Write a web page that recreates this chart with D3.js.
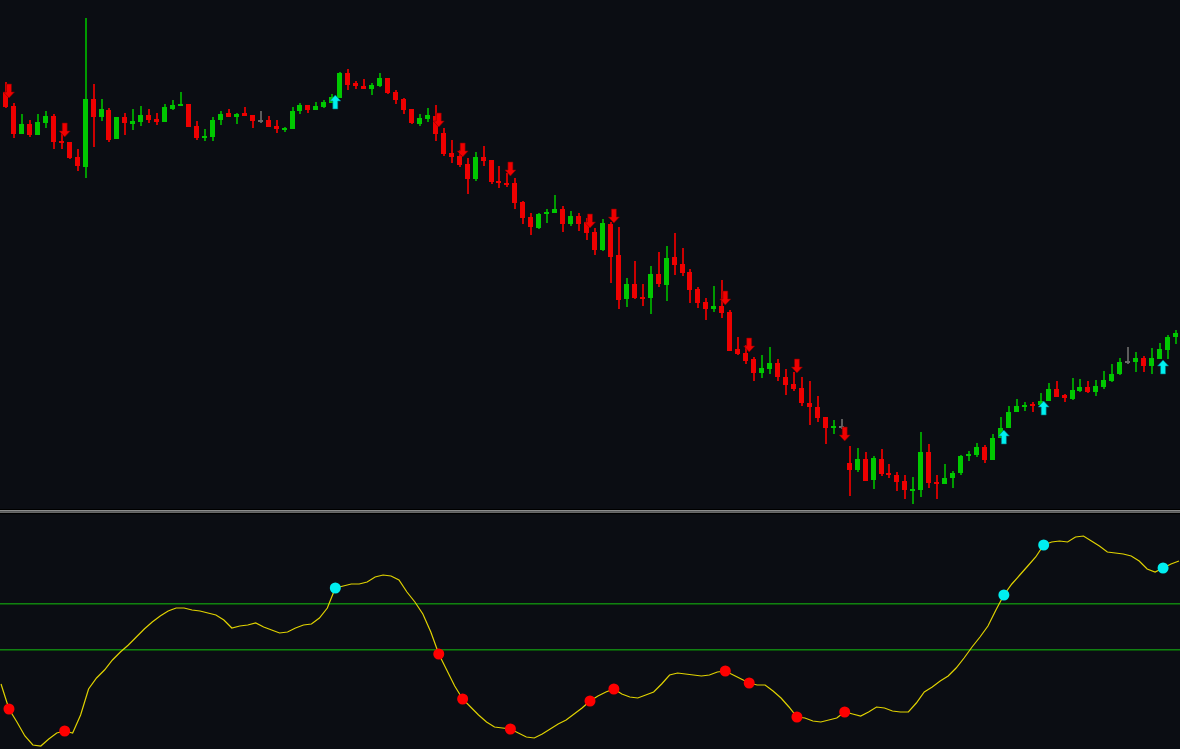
<!DOCTYPE html>
<html><head><meta charset="utf-8">
<script src="https://cdn.jsdelivr.net/npm/d3@7/dist/d3.min.js"></script>
<style>html,body{margin:0;padding:0;background:#0b0d13;overflow:hidden}</style>
</head><body>
<svg id="c" width="1180" height="749"></svg>
<script>
// ---- price data (one candle per bar) ----
const openP  = [508,494,466,476,465,477,484,459,458,443,433,501,483,490,461,483,476,478,485,481,478,491,494,496,474,463,463,480,487,483,487,485,480,480,474,470,471,489,495,490,493,497,502,527,517,514,511,514,522,508,501,491,476,481,484,467,447,444,436,421,443,440,419,417,417,398,383,372,386,387,391,376,384,378,368,350,376,345,301,316,303,302,326,315,343,336,328,311,298,291,294,288,251,247,241,227,231,237,223,216,212,197,193,183,173,174,137,130,141,120,141,127,125,119,110,110,148,118,116,122,127,144,145,153,140,162,172,188,193,196,195,199,211,205,201,209,213,208,213,219,226,239,238,242,234,241,250,263];
const highP  = [518,497,486,480,486,489,486,469,458,451,582,516,501,492,483,487,491,494,491,487,496,500,508,496,479,471,483,489,491,487,493,485,489,484,480,473,493,497,495,498,500,506,528,531,519,521,517,527,522,510,502,491,486,492,495,472,460,450,442,448,454,440,434,427,422,399,387,387,391,405,394,389,387,382,372,381,378,373,322,339,316,334,348,354,367,352,331,313,302,314,320,290,263,255,243,245,253,241,231,228,223,219,204,183,180,181,154,152,148,144,151,136,128,125,123,168,156,125,136,129,145,149,157,155,166,183,194,201,198,198,207,217,219,206,222,221,219,220,229,236,242,253,248,244,252,257,265,270];
const lowP   = [492,462,466,463,465,472,451,451,441,429,422,453,479,458,461,465,470,474,477,475,478,490,494,473,460,459,459,475,483,476,484,472,477,473,467,468,471,486,487,490,492,497,502,510,511,511,505,513,506,496,486,476,474,478,459,444,437,433,406,419,434,416,412,413,391,376,365,371,377,387,368,374,369,360,345,349,317,291,293,301,294,286,313,299,325,324,297,292,280,288,282,249,245,236,219,222,226,219,205,209,194,175,178,156,166,171,104,128,119,111,124,122,109,101,96,103,112,101,116,112,125,139,143,137,140,162,172,188,189,188,195,199,203,198,200,208,207,204,211,218,225,236,228,228,226,241,241,256];
const closeP = [493,466,476,465,478,484,458,457,442,434,501,483,491,460,483,477,479,485,480,478,493,495,496,473,462,464,480,486,483,486,484,479,480,473,471,472,489,495,490,494,498,503,527,515,514,511,515,522,507,500,490,477,482,485,466,446,443,435,421,443,439,418,417,416,397,382,373,386,388,391,376,384,376,367,350,377,343,300,316,302,301,326,316,342,335,327,310,297,291,294,287,249,246,239,227,232,237,223,215,211,197,193,182,172,174,174,130,141,119,142,126,126,118,110,111,148,117,116,122,127,144,146,153,140,162,172,188,194,195,194,199,211,203,202,210,213,208,214,220,226,238,239,242,234,242,251,263,267];

// ---- signal arrows (bar index, price of arrow tip) ----
const sellIdx   = [0,7,54,57,63,73,76,90,93,99,105];
const sellPrice = [502,463,473,443,424,372,377,295,248,227,159];
const buyIdx    = [41,125,130,145];
const buyPrice  = [505,170,199,240];

// ---- oscillator (bars -1 .. 147) ----
const oscStart = -1;
const oscVals = [66,41,28,14,5,4,11,17,19,17,35,61,72,80,90,98,105,113,121,128,134,139,142,142,140,139,137,135,130,122,124,125,127,123,120,117,118,122,125,126,132,142,162,164,166,166,168,173,175,174,170,158,148,136,118,96,80,64,51,43,35,28,23,22,21,17,13,12,16,21,26,30,36,42,49,54,58,61,56,53,52,55,58,66,75,77,76,75,74,75,78,79,75,71,67,65,65,59,52,43,33,32,29,28,30,32,38,36,34,38,43,42,39,38,38,47,58,63,69,74,82,92,103,113,124,140,155,166,175,184,193,205,208,209,208,213,214,209,204,198,197,196,194,189,181,178,182,186,189];
const oscLevels = [147,101];

const svg = d3.select('#c');
const W = 1180, H = 749;
svg.append('rect').attr('width',W).attr('height',H).attr('fill','#0b0d13');

const x = d3.scaleLinear().domain([0,147]).range([5,1175]);
const yP = d3.scaleLinear().domain([90,600]).range([510,0]);
const yO = d3.scaleLinear().domain([0,240]).range([750,510]);

const candles = d3.range(openP.length).map(i=>({i,o:openP[i],h:highP[i],l:lowP[i],c:closeP[i]}));
const col = d=> d.c>d.o ? 'up' : (d.c<d.o ? 'dn' : 'dj');
const bodyCol = {up:'#00c800', dn:'#ee0000', dj:'#6a6a6a'};
const wickCol = {up:'#009a00', dn:'#cc0000', dj:'#5c5c5c'};

const gTop = svg.append('g').attr('shape-rendering','crispEdges');
gTop.selectAll('rect.w').data(candles).join('rect')
  .attr('x',d=>Math.round(x(d.i))-0.5).attr('width',2)
  .attr('y',d=>yP(d.h)).attr('height',d=>yP(d.l)-yP(d.h))
  .attr('fill',d=>wickCol[col(d)]);
gTop.selectAll('rect.b').data(candles).join('rect')
  .attr('x',d=>Math.round(x(d.i))-2)
  .attr('width',5)
  .attr('y',d=>yP(Math.max(d.o,d.c)))
  .attr('height',d=>Math.max(2,Math.abs(yP(d.o)-yP(d.c))))
  .attr('fill',d=>bodyCol[col(d)]);

// arrows
function downArrow(cx,ty){ // tip at (cx,ty)
  return `M${cx},${ty} L${cx-5.5},${ty-6} L${cx-2.5},${ty-6} L${cx-2.5},${ty-14} L${cx+2.5},${ty-14} L${cx+2.5},${ty-6} L${cx+5.5},${ty-6} Z`;
}
function upArrow(cx,ty){
  return `M${cx},${ty} L${cx-5.5},${ty+6} L${cx-2.5},${ty+6} L${cx-2.5},${ty+14} L${cx+2.5},${ty+14} L${cx+2.5},${ty+6} L${cx+5.5},${ty+6} Z`;
}
const sells = sellIdx.map((b,k)=>({b,p:sellPrice[k]}));
const buys = buyIdx.map((b,k)=>({b,p:buyPrice[k]}));
svg.append('g').selectAll('path').data(sells).join('path')
  .attr('d',d=>downArrow(x(d.b+0.5),yP(d.p)))
  .attr('fill','#f00000').attr('stroke','#7a0000').attr('stroke-width',0.6);
svg.append('g').selectAll('path').data(buys).join('path')
  .attr('d',d=>upArrow(x(d.b+0.5),yP(d.p)))
  .attr('fill','#00f0f0').attr('stroke','#006e78').attr('stroke-width',0.6);

// separator
svg.append('rect').attr('x',0).attr('y',509).attr('width',W).attr('height',1).attr('fill','#000');
svg.append('rect').attr('x',0).attr('y',510).attr('width',W).attr('height',1.5).attr('fill','#8c8c8c');
svg.append('rect').attr('x',0).attr('y',511.5).attr('width',W).attr('height',1.5).attr('fill','#6a6a6a');
svg.append('rect').attr('x',0).attr('y',513).attr('width',W).attr('height',1.2).attr('fill','#000');

// oscillator levels
const gLev = svg.append('g').attr('shape-rendering','crispEdges');
gLev.selectAll('rect.a').data(oscLevels).join('rect')
  .attr('x',0).attr('width',W)
  .attr('y',d=>Math.round(yO(d))).attr('height',1)
  .attr('fill','#128012');
gLev.selectAll('rect.b').data(oscLevels).join('rect')
  .attr('x',0).attr('width',W)
  .attr('y',d=>Math.round(yO(d))+1).attr('height',1)
  .attr('fill','#0a4e0a');

// oscillator line
const oscPts = oscVals.map((v,k)=>({b:k+oscStart,v}));
svg.append('path').datum(oscPts)
  .attr('d',d3.line().x(d=>x(d.b+0.5)).y(d=>yO(d.v)))
  .attr('fill','none').attr('stroke','#e0d200').attr('stroke-width',1.2);

// dots
const oscAt = b=>oscVals[b-oscStart];
svg.append('g').selectAll('circle').data(sellIdx).join('circle')
  .attr('cx',b=>x(b+0.5)).attr('cy',b=>yO(oscAt(b))).attr('r',5.5).attr('fill','#ff0000');
svg.append('g').selectAll('circle').data(buyIdx).join('circle')
  .attr('cx',b=>x(b+0.5)).attr('cy',b=>yO(oscAt(b))).attr('r',5.5).attr('fill','#00eef0');
</script>
</body></html>
